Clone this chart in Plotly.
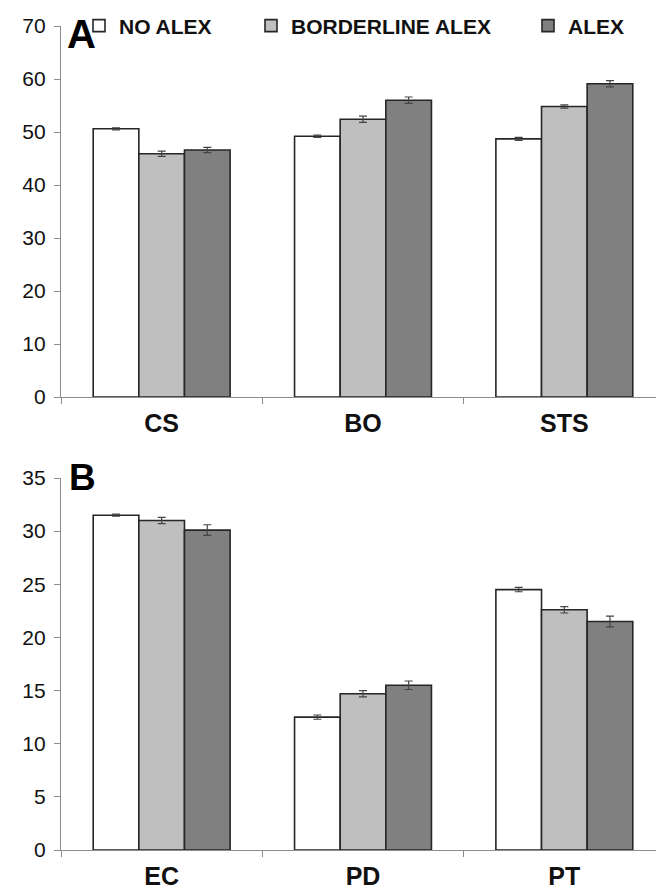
import plotly.graph_objects as go
from plotly.subplots import make_subplots

cats_a = ["CS", "BO", "STS"]
cats_b = ["EC", "PD", "PT"]
series = ["NO ALEX", "BORDERLINE ALEX", "ALEX"]

a_no = [50.6, 49.2, 48.7]
a_border = [45.9, 52.4, 54.8]
a_alex = [46.6, 56.0, 59.1]
a_no_err = [0.2, 0.2, 0.3]
a_border_err = [0.5, 0.6, 0.3]
a_alex_err = [0.5, 0.6, 0.6]

b_no = [31.5, 12.5, 24.5]
b_border = [31.0, 14.7, 22.6]
b_alex = [30.1, 15.5, 21.5]
b_no_err = [0.1, 0.2, 0.2]
b_border_err = [0.3, 0.3, 0.3]
b_alex_err = [0.5, 0.4, 0.5]

colors = ["#FFFFFF", "#BFBFBF", "#808080"]

W, H = 664, 893
ml, mr, mt, mb = 53, 7, 0, 0
pw = W - ml - mr
ph = H - mt - mb

def py(pix):
    return (H - mb - pix) / ph

def px(pix):
    return (pix - ml) / pw

fig = make_subplots(rows=2, cols=1)

top_vals = [a_no, a_border, a_alex]
top_errs = [a_no_err, a_border_err, a_alex_err]
bot_vals = [b_no, b_border, b_alex]
bot_errs = [b_no_err, b_border_err, b_alex_err]
legends = ["legend", "legend2", "legend3"]

for i, name in enumerate(series):
    fig.add_trace(go.Bar(
        x=cats_a, y=top_vals[i], name=name, marker_color=colors[i],
        marker_line=dict(color="#262626", width=1.6), legend=legends[i],
        error_y=dict(type="data", array=top_errs[i], color="#444", thickness=1.2, width=4),
    ), row=1, col=1)
for i, name in enumerate(series):
    fig.add_trace(go.Bar(
        x=cats_b, y=bot_vals[i], name=name, marker_color=colors[i],
        marker_line=dict(color="#262626", width=1.6), showlegend=False,
        error_y=dict(type="data", array=bot_errs[i], color="#444", thickness=1.2, width=4),
    ), row=2, col=1)

FAM = "Liberation Sans, Arial"
tickfont = dict(family=FAM, size=21, color="#111")
catfont = dict(family=FAM, size=25, color="#111", weight="bold")
legfont = dict(family=FAM, size=21, color="#111", weight="bold")

axis_common = dict(showline=True, linecolor="#8c8c8c", linewidth=1.2, ticks="outside",
                   tickcolor="#8c8c8c", ticklen=6, showgrid=False, zeroline=False,
                   automargin=False)

def leg(xpix):
    return dict(orientation="h", x=px(xpix - 46), xanchor="left", y=py(18), yanchor="middle",
                font=legfont, bgcolor="rgba(0,0,0,0)")

fig.update_layout(
    width=W, height=H, plot_bgcolor="white", paper_bgcolor="white",
    margin=dict(l=ml, r=mr, t=mt, b=mb, autoexpand=False),
    barmode="group", bargap=0.32, bargroupgap=0,
    showlegend=True,
    legend=leg(117), legend2=leg(289), legend3=leg(566),
    xaxis=dict(domain=[0, 1], tickson="boundaries", tickfont=catfont,
               ticklabelstandoff=4, anchor="y", **axis_common),
    xaxis2=dict(domain=[0, 1], tickson="boundaries", tickfont=catfont,
                ticklabelstandoff=4, anchor="y2", **axis_common),
    yaxis=dict(domain=[py(389), py(18)], range=[0, 70], dtick=10, tickfont=tickfont,
               ticklabelstandoff=4, **axis_common),
    yaxis2=dict(domain=[py(842), py(470)], range=[0, 35], dtick=5, tickfont=tickfont,
                ticklabelstandoff=4, **axis_common),
)

fig.add_annotation(text="<b>A</b>", xref="paper", yref="paper", x=px(57), y=py(2),
                   xanchor="left", yanchor="top", showarrow=False,
                   font=dict(family=FAM, size=40, color="#000"))
fig.add_annotation(text="<b>B</b>", xref="paper", yref="paper", x=px(59), y=py(447),
                   xanchor="left", yanchor="top", showarrow=False,
                   font=dict(family=FAM, size=37, color="#000"))

fig.write_html("out.html")
